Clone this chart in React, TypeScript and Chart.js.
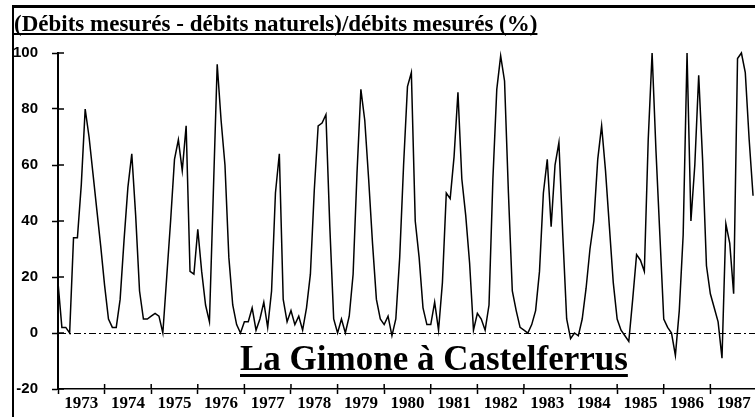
import React, { useEffect, useRef } from "react";
import { Chart, registerables } from "chart.js";

Chart.register(...registerables);

// Years shown on the x axis (monthly data, January 1973 – December 1987)
const years = ["1973", "1974", "1975", "1976", "1977", "1978", "1979", "1980", "1981", "1982", "1983", "1984", "1985", "1986", "1987"];

// Monthly ratio (%) : (measured flow - natural flow) / measured flow
const ratio1973to1977 = [
  18, 2, 2, 0, 34, 34, 53, 80, 70, 57, 44, 31,
  17, 5, 2, 2, 12, 33, 52, 64, 42, 15, 5, 5,
  6, 7, 6, 0, 20, 40, 62, 69, 58, 74, 22, 21,
  37, 22, 10, 4, 50, 96, 76, 60, 27, 10, 3, 0,
  4, 4, 9, 1, 5, 11, 2, 15, 50, 64, 12, 4,
];
const ratio1978to1982 = [
  8, 3, 6, 1, 9, 21, 51, 74, 75, 78, 38, 5,
  0, 5, 0, 6, 21, 57, 87, 76, 55, 32, 12, 5,
  3, 6, -1, 5, 27, 60, 88, 93, 40, 27, 9, 3,
  3, 11, 1, 18, 50, 48, 63, 86, 55, 42, 25, 1,
  7, 5, 1, 10, 55, 87, 99, 90, 50, 15, 8, 2,
];
const ratio1983to1987 = [
  1, 0, 3, 8, 22, 50, 62, 38, 60, 68, 35, 5,
  -2, 0, -1, 5, 16, 30, 40, 62, 74, 58, 38, 18,
  5, 1, -1, -3, 12, 28, 26, 22, 69, 100, 65, 35,
  5, 2, 0, -8, 8, 35, 100, 40, 60, 92, 62, 24,
  14, 9, 4, -9, 39, 32, 14, 98, 100, 93, 69, 49,
];
const ratioValues = [...ratio1973to1977, ...ratio1978to1982, ...ratio1983to1987];

const yTickValues = [-20, 0, 20, 40, 60, 80, 100];

const titleText = "(Débits mesurés - débits naturels)/débits mesurés (%)";
const stationText = "La Gimone à Castelferrus";

const SERIF = '"Liberation Serif", "Times New Roman", serif';
const SANS = '"Liberation Sans", Arial, sans-serif';

const decorPlugin = {
  id: "decor",
  afterDraw(chart: any) {
    const ctx = chart.ctx;
    const xs = chart.scales.x;
    const ys = chart.scales.y;
    const area = chart.chartArea;
    ctx.save();
    ctx.fillStyle = "#000";
    ctx.strokeStyle = "#000";

    // outer frame (top and left)
    ctx.fillRect(12, 5, chart.width - 12, 3);
    ctx.fillRect(12, 5, 2, chart.height - 5);

    // inner halves of tick marks
    ctx.lineWidth = 1.5;
    ctx.beginPath();
    xs.ticks.forEach((t: any) => {
      const px = xs.getPixelForValue(t.value);
      ctx.moveTo(px, area.bottom);
      ctx.lineTo(px, area.bottom - 5);
    });
    ys.ticks.forEach((t: any) => {
      const py = ys.getPixelForValue(t.value);
      ctx.moveTo(area.left, py);
      ctx.lineTo(area.left + 6, py);
    });
    ctx.stroke();

    // title, underlined
    ctx.font = `bold 23px ${SERIF}`;
    ctx.textBaseline = "alphabetic";
    ctx.textAlign = "left";
    ctx.fillText(titleText, 14, 31);
    const tw = ctx.measureText(titleText).width;
    ctx.fillRect(14, 33, tw, 2);

    // station label, underlined
    ctx.font = `bold 35px ${SERIF}`;
    ctx.fillText(stationText, 240, 370);
    const sw = ctx.measureText(stationText).width;
    ctx.fillRect(240, 374, sw, 3);
    ctx.restore();
  },
};

export default function App() {
  const canvasRef = useRef<HTMLCanvasElement | null>(null);

  useEffect(() => {
    document.body.style.margin = "0";
    const canvas = canvasRef.current;
    if (!canvas) return;

    const chart = new Chart(canvas, {
      type: "line",
      data: {
        datasets: [
          {
            data: ratioValues.map((v, i) => ({ x: i, y: v })),
            borderColor: "#000",
            borderWidth: 1.5,
            pointRadius: 0,
            tension: 0,
            fill: false,
            clip: false as any,
          },
        ],
      },
      options: {
        animation: false,
        responsive: false,
        devicePixelRatio: 1,
        events: [],
        layout: { padding: { top: 53, right: 0, bottom: 0, left: 0 } },
        plugins: {
          legend: { display: false },
          tooltip: { enabled: false },
          title: { display: false },
        },
        scales: {
          x: {
            type: "linear",
            min: 0,
            max: 179.5,
            afterBuildTicks: (scale: any) => {
              scale.ticks = years.map((_, k) => ({ value: k * 12 }));
            },
            afterFit: (scale: any) => {
              scale.height = 28;
            },
            ticks: {
              autoSkip: false,
              maxRotation: 0,
              minRotation: 0,
              labelOffset: 23.3,
              padding: -1,
              color: "#000",
              font: { family: SERIF, size: 17, weight: "bold" },
              callback: (v: any) => years[Math.round(Number(v) / 12)] ?? "",
            },
            grid: {
              drawOnChartArea: false,
              drawTicks: true,
              tickLength: 5,
              tickColor: "#000",
              tickWidth: 1.5,
            },
            border: { display: true, color: "#000", width: 1.5 },
          },
          y: {
            type: "linear",
            min: -20,
            max: 100,
            afterBuildTicks: (scale: any) => {
              scale.ticks = yTickValues.map((v) => ({ value: v }));
            },
            afterFit: (scale: any) => {
              scale.width = 58;
            },
            ticks: {
              padding: 14,
              color: "#000",
              font: { family: SANS, size: 15, weight: "bold" },
              callback: (v: any) => String(v),
            },
            grid: {
              drawOnChartArea: true,
              drawTicks: true,
              tickLength: 6,
              tickColor: "#000",
              tickWidth: 1.5,
              lineWidth: 1,
              color: (c: any) => (c.tick && c.tick.value === 0 ? "#000" : "rgba(0,0,0,0)"),
            },
            border: { display: true, color: "#000", width: 2, dash: [7, 3, 2, 3] },
          },
        },
      },
      plugins: [decorPlugin],
    });

    return () => chart.destroy();
  }, []);

  return (
    <div style={{ position: "relative", width: 755, height: 417, background: "#fff" }}>
      <canvas ref={canvasRef} width={755} height={417} style={{ display: "block" }} />
    </div>
  );
}
